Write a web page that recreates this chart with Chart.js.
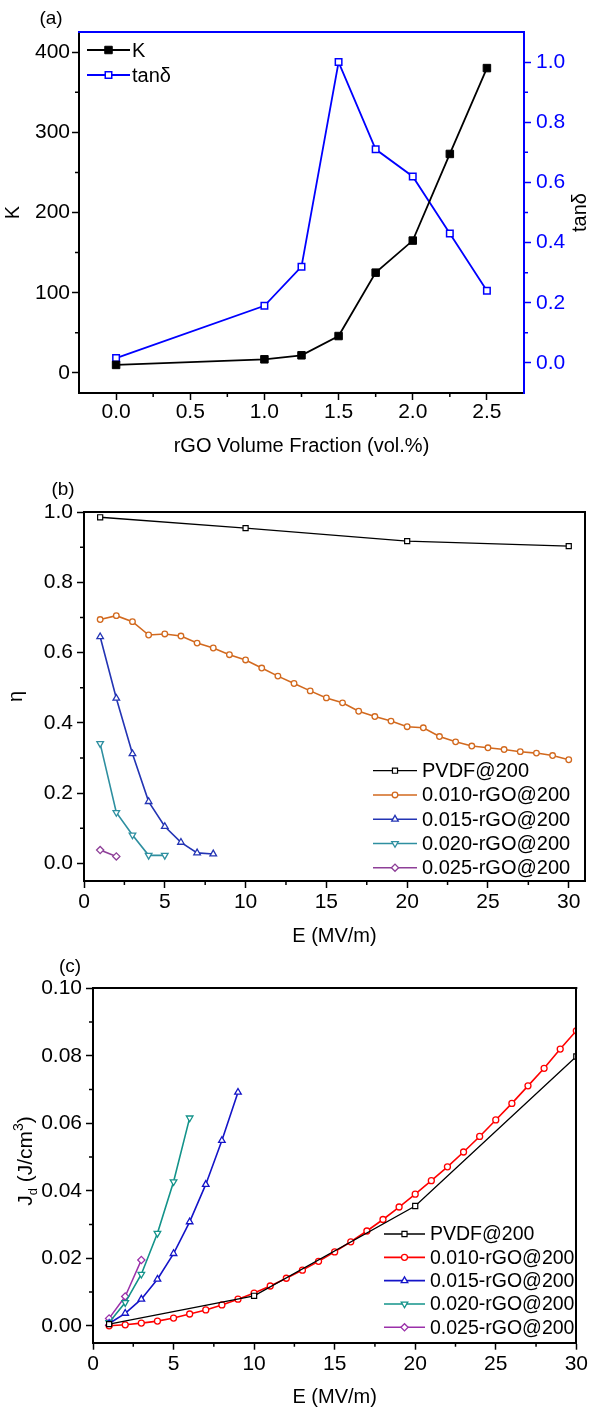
<!DOCTYPE html>
<html><head><meta charset="utf-8">
<script src="https://cdn.jsdelivr.net/npm/chart.js@4.4.1/dist/chart.umd.min.js"></script>
<style>
html,body{margin:0;padding:0;background:#fff;}
#wrap{position:relative;width:590px;height:1407px;overflow:hidden;background:#fff;}
canvas{position:absolute;left:0;}
</style>
</head><body>
<div id="wrap">
<canvas id="chartA" width="590" height="470" style="top:0px"></canvas>
<canvas id="chartB" width="590" height="480" style="top:470px"></canvas>
<canvas id="chartC" width="590" height="457" style="top:950px"></canvas>
</div>
<script>
// ---------- Panel (a) data ----------
const fracA = [0, 1.0, 1.25, 1.5, 1.75, 2.0, 2.25, 2.5];
const kA    = [10, 17, 22, 46, 125, 165, 273, 380];
const tanA  = [0.016, 0.19, 0.32, 1.0, 0.71, 0.62, 0.43, 0.24];
const fracTicks = [0, 0.5, 1.0, 1.5, 2.0, 2.5];
const fracMinor = [0.25, 0.75, 1.25, 1.75, 2.25];
const kTicks = [0, 100, 200, 300, 400];
const kMinor = [50, 150, 250, 350];
const tanTicks = [0, 0.2, 0.4, 0.6, 0.8, 1.0];
const tanMinor = [0.1, 0.3, 0.5, 0.7, 0.9];
const legendA = ['K', 'tan\u03B4'];

// ---------- Panel (b) data ----------
const seriesNames = ['PVDF@200', '0.010-rGO@200', '0.015-rGO@200', '0.020-rGO@200', '0.025-rGO@200'];
const ePVDF = [1, 10, 20, 30];
const e010 = [1,2,3,4,5,6,7,8,9,10,11,12,13,14,15,16,17,18,19,20,21,22,23,24,25,26,27,28,29,30];
const e015b = [1,2,3,4,5,6,7,8];
const e020b = [1,2,3,4,5];
const e025b = [1,2];
const etaPVDF = [0.985, 0.954, 0.917, 0.903];
const eta010 = [0.694,0.705,0.688,0.650,0.653,0.647,0.627,0.613,0.594,0.579,0.556,0.533,0.512,0.491,0.471,0.457,0.433,0.418,0.405,0.389,0.386,0.361,0.346,0.334,0.329,0.324,0.318,0.314,0.307,0.295];
const eta015 = [0.645,0.470,0.312,0.176,0.105,0.060,0.030,0.027];
const eta020 = [0.341,0.145,0.081,0.023,0.023];
const eta025 = [0.038,0.020];
const eTicks = [0, 5, 10, 15, 20, 25, 30];
const eMinor = [2.5, 7.5, 12.5, 17.5, 22.5, 27.5];
const etaTicks = [0, 0.2, 0.4, 0.6, 0.8, 1.0];
const etaMinor = [0.1, 0.3, 0.5, 0.7, 0.9];

// ---------- Panel (c) data ----------
const e015c = [1,2,3,4,5,6,7,8,9];
const e020c = [1,2,3,4,5,6];
const e025c = [1,2,3];
const jPVDF = [0.0005, 0.0089, 0.0355, 0.0798];
const j010 = [0.0000,0.0003,0.0008,0.0014,0.0023,0.0035,0.0047,0.0062,0.0079,0.0097,0.0118,0.0141,0.0165,0.0191,0.0219,0.0249,0.0281,0.0315,0.0352,0.0390,0.0430,0.0471,0.0515,0.0561,0.0610,0.0659,0.0711,0.0763,0.0820,0.0874];
const j015 = [0.0007,0.0037,0.0079,0.0138,0.0214,0.0308,0.0419,0.0549,0.0692];
const j020 = [0.0010,0.0069,0.0153,0.0274,0.0427,0.0616];
const j025 = [0.0022,0.0087,0.0195];
const jTicks = [0, 0.02, 0.04, 0.06, 0.08, 0.10];
const jMinor = [0.01, 0.03, 0.05, 0.07, 0.09];

// ---------- helpers ----------
const FONT = "'Liberation Sans', Arial, Helvetica, sans-serif";
Chart.defaults.font.family = FONT;
Chart.defaults.color = '#000';

function pts(xs, ys) { return xs.map((x, i) => ({x: x, y: ys[i]})); }
function fixedTicks(vals) { return s => { s.ticks = vals.map(v => ({value: v})); }; }

function scaleOpts(o) {
  const color = o.color || '#000';
  return {
    type: 'linear', position: o.position, min: o.min, max: o.max,
    afterBuildTicks: fixedTicks(o.ticks),
    afterFit: o.size,
    ticks: {font: {size: 21}, color: color, padding: o.pad, maxRotation: 0, autoSkip: false, callback: o.fmt},
    grid: {display: true, drawOnChartArea: false, drawTicks: true, tickLength: 7, tickWidth: 1.5, tickColor: color},
    border: {display: true, color: color, width: 2},
    title: o.title ? {display: true, text: o.title, font: {size: 20, lineHeight: o.lh || 1.2}, color: '#000', padding: o.tpad} : {display: false}
  };
}

function makeMinor(list) {
  return { id: 'minorTicks', afterDraw(chart) {
    const ctx = chart.ctx, ca = chart.chartArea;
    list.forEach(m => {
      const s = chart.scales[m.axis];
      ctx.save(); ctx.strokeStyle = m.color || '#000'; ctx.lineWidth = 1.5;
      ctx.beginPath();
      m.values.forEach(v => {
        const p = s.getPixelForValue(v);
        if (s.options.position === 'bottom') { ctx.moveTo(p, ca.bottom); ctx.lineTo(p, ca.bottom + 4); }
        else if (s.options.position === 'left') { ctx.moveTo(ca.left, p); ctx.lineTo(ca.left - 4, p); }
        else { ctx.moveTo(ca.right, p); ctx.lineTo(ca.right + 4, p); }
      });
      ctx.stroke(); ctx.restore();
    });
  }};
}

function makeFrame(f) {
  return { id: 'frame', afterDraw(chart) {
    const ctx = chart.ctx, ca = chart.chartArea;
    ctx.save(); ctx.lineWidth = 2;
    if (f.top) { ctx.strokeStyle = f.top; ctx.beginPath(); ctx.moveTo(ca.left - 1, Math.round(ca.top)); ctx.lineTo(ca.right + 1, Math.round(ca.top)); ctx.stroke(); }
    if (f.right) { ctx.strokeStyle = f.right; ctx.beginPath(); ctx.moveTo(Math.round(ca.right), ca.top - 1); ctx.lineTo(Math.round(ca.right), ca.bottom + 1); ctx.stroke(); }
    ctx.restore();
  }};
}

function drawMarker(ctx, style, rot, r, x, y) {
  if (Chart.helpers && Chart.helpers.drawPoint) {
    Chart.helpers.drawPoint(ctx, {pointStyle: style, rotation: rot || 0, radius: r, borderWidth: ctx.lineWidth}, x, y);
    return;
  }
  ctx.beginPath();
  if (style === 'circle') ctx.arc(x, y, r, 0, Math.PI * 2);
  else { const s = r * Math.SQRT1_2; ctx.rect(x - s, y - s, 2 * s, 2 * s); }
  ctx.fill(); ctx.stroke();
}

function makeLegend(L) {
  return { id: 'innerLegend', afterDraw(chart) {
    const ctx = chart.ctx;
    ctx.save();
    chart.data.datasets.forEach((ds, i) => {
      const y = L.y + i * L.rowH;
      ctx.strokeStyle = ds.borderColor; ctx.lineWidth = ds.borderWidth;
      ctx.beginPath(); ctx.moveTo(L.x0, y); ctx.lineTo(L.x1, y); ctx.stroke();
      ctx.fillStyle = ds.pointBackgroundColor; ctx.strokeStyle = ds.pointBorderColor; ctx.lineWidth = ds.pointBorderWidth;
      drawMarker(ctx, ds.pointStyle, ds.pointRotation, ds.pointRadius, (L.x0 + L.x1) / 2, y);
      ctx.fillStyle = '#000'; ctx.font = L.size + 'px ' + FONT; ctx.textBaseline = 'middle'; ctx.textAlign = 'left';
      ctx.fillText(ds.label, L.tx, y + 1);
    });
    ctx.restore();
  }};
}

function makeTexts(items) {
  return { id: 'texts', afterDraw(chart) {
    const ctx = chart.ctx;
    items.forEach(it => {
      ctx.save();
      ctx.translate(it.x, it.y);
      if (it.rot) ctx.rotate(it.rot * Math.PI / 180);
      ctx.fillStyle = it.color || '#000';
      ctx.textBaseline = it.baseline || 'middle'; ctx.textAlign = 'left';
      let total = 0;
      it.segs.forEach(sg => { ctx.font = sg.size + 'px ' + FONT; sg.w = ctx.measureText(sg.t).width; total += sg.w; });
      let x = -total / 2;
      it.segs.forEach(sg => { ctx.font = sg.size + 'px ' + FONT; ctx.fillText(sg.t, x, sg.dy || 0); x += sg.w; });
      ctx.restore();
    });
  }};
}

function ds(label, data, color, style, r, fill, extra) {
  return Object.assign({
    label: label, data: data, borderColor: color, borderWidth: 1.6, tension: 0,
    pointStyle: style, pointRadius: r, pointBackgroundColor: fill || '#fff', pointBorderColor: color, pointBorderWidth: 1.3,
    pointHoverRadius: r
  }, extra || {});
}

const common = {responsive: false, animation: false, devicePixelRatio: 1, events: [],
  plugins: {legend: {display: false}, tooltip: {enabled: false}}};

// ---------- Chart (a) ----------
new Chart(document.getElementById('chartA'), {
  type: 'line',
  data: {datasets: [
    ds(legendA[0], pts(fracA, kA), '#000000', 'rect', 5.3, '#000000', {yAxisID: 'y', borderWidth: 1.8, pointBorderWidth: 1}),
    ds(legendA[1], pts(fracA, tanA), '#0000FF', 'rect', 4.6, '#ffffff', {yAxisID: 'y1', borderWidth: 1.8, pointBorderWidth: 1.5})
  ]},
  options: Object.assign({}, common, {
    layout: {padding: {left: 0, top: 32, right: 0, bottom: 0}},
    scales: {
      x: scaleOpts({position: 'bottom', min: -0.25, max: 2.75, ticks: fracTicks, size: s => { s.height = 77; }, pad: 0,
        fmt: v => Number(v).toFixed(1), title: 'rGO Volume Fraction (vol.%)', tpad: {top: 0, bottom: 12}}),
      y: scaleOpts({position: 'left', min: -25, max: 425, ticks: kTicks, size: s => { s.width = 79; }, pad: 2,
        fmt: v => String(v), title: 'K', tpad: {top: 1, bottom: 0}}),
      y1: scaleOpts({position: 'right', min: -0.1, max: 1.1, ticks: tanTicks, size: s => { s.width = 66; }, pad: 5,
        fmt: v => Number(v).toFixed(1), color: '#0000FF'})
    }
  }),
  plugins: [
    makeMinor([{axis: 'x', values: fracMinor}, {axis: 'y', values: kMinor}, {axis: 'y1', values: tanMinor, color: '#0000FF'}]),
    makeFrame({top: '#0000FF'}),
    makeLegend({x0: 87, x1: 130, tx: 132, y: 50, rowH: 25, size: 20}),
    makeTexts([
      {x: 51, y: 19, segs: [{t: '(a)', size: 19}]},
      {x: 580, y: 212.5, rot: -90, segs: [{t: 'tan\u03B4', size: 20}]}
    ])
  ]
});

// ---------- Chart (b) ----------
new Chart(document.getElementById('chartB'), {
  type: 'line',
  data: {datasets: [
    ds(seriesNames[0], pts(ePVDF, etaPVDF), '#000000', 'rect', 3.6, '#fff', {borderWidth: 1.3, pointBorderWidth: 1.2}),
    ds(seriesNames[1], pts(e010, eta010), '#D2691E', 'circle', 2.8, '#fff'),
    ds(seriesNames[2], pts(e015b, eta015), '#2334B4', 'triangle', 3.8, '#fff'),
    ds(seriesNames[3], pts(e020b, eta020), '#2E8FA0', 'triangle', 3.8, '#fff', {pointRotation: 180}),
    ds(seriesNames[4], pts(e025b, eta025), '#8E3F98', 'rectRot', 3.6, '#fff')
  ]},
  options: Object.assign({}, common, {
    layout: {padding: {left: 0, top: 42, right: 3, bottom: 0}},
    scales: {
      x: scaleOpts({position: 'bottom', min: 0, max: 31, ticks: eTicks, size: s => { s.height = 69; }, pad: 2,
        fmt: v => String(v), title: 'E (MV/m)', tpad: {top: 0, bottom: 2}}),
      y: scaleOpts({position: 'left', min: -0.05, max: 1.0, ticks: etaTicks, size: s => { s.width = 84; }, pad: 4,
        fmt: v => Number(v).toFixed(1), title: '\u03B7', tpad: {top: 4, bottom: 0}})
    }
  }),
  plugins: [
    makeMinor([{axis: 'x', values: eMinor}, {axis: 'y', values: etaMinor}]),
    makeFrame({top: '#000', right: '#000'}),
    makeLegend({x0: 373, x1: 417, tx: 422, y: 300.7, rowH: 24.25, size: 20}),
    makeTexts([{x: 63, y: 20, segs: [{t: '(b)', size: 19}]}])
  ]
});

// ---------- Chart (c) ----------
new Chart(document.getElementById('chartC'), {
  type: 'line',
  data: {datasets: [
    ds(seriesNames[0], pts(ePVDF, jPVDF), '#000000', 'rect', 3.6, '#fff', {borderWidth: 1.3, pointBorderWidth: 1.2}),
    ds(seriesNames[1], pts(e010, j010), '#FF0000', 'circle', 3, '#fff'),
    ds(seriesNames[2], pts(e015c, j015), '#1414C8', 'triangle', 3.8, '#fff'),
    ds(seriesNames[3], pts(e020c, j020), '#13938A', 'triangle', 3.8, '#fff', {pointRotation: 180}),
    ds(seriesNames[4], pts(e025c, j025), '#9B30AA', 'rectRot', 3.6, '#fff')
  ]},
  options: Object.assign({}, common, {
    layout: {padding: {left: 0, top: 38.3, right: 12, bottom: 0}},
    scales: {
      x: scaleOpts({position: 'bottom', min: 0, max: 30, ticks: eTicks, size: s => { s.height = 64.3; }, pad: 2,
        fmt: v => String(v), title: 'E (MV/m)', lh: 1.0, tpad: {top: 0, bottom: 0}}),
      y: scaleOpts({position: 'left', min: -0.005, max: 0.10, ticks: jTicks, size: s => { s.width = 93; }, pad: 4,
        fmt: v => Number(v).toFixed(2)})
    }
  }),
  plugins: [
    makeMinor([{axis: 'x', values: eMinor}, {axis: 'y', values: jMinor}]),
    makeFrame({top: '#000', right: '#000'}),
    makeLegend({x0: 384, x1: 425, tx: 430, y: 284, rowH: 23.33, size: 19.5}),
    makeTexts([
      {x: 70, y: 17, segs: [{t: '(c)', size: 19}]},
      {x: 32, y: 211, rot: -90, baseline: 'alphabetic', segs: [
        {t: 'J', size: 21}, {t: 'd', size: 13, dy: 5}, {t: ' (J/cm', size: 21}, {t: '3', size: 14, dy: -9}, {t: ')', size: 21}
      ]}
    ])
  ]
});
</script>
</body></html>
